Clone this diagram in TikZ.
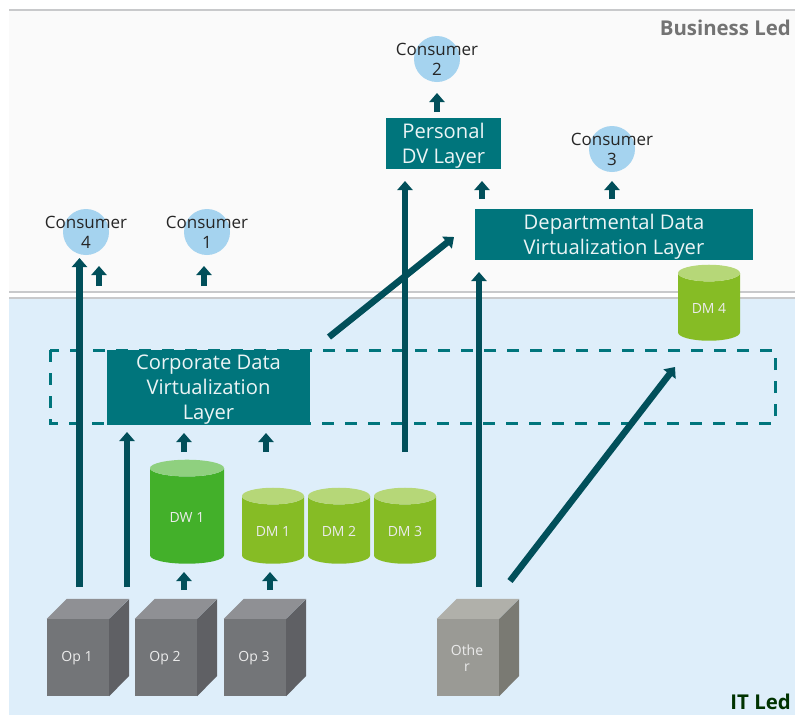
\documentclass[tikz,border=0pt]{standalone}
\usepackage{fontspec}
\setmainfont{Open Sans}
\usetikzlibrary{arrows.meta,shapes.geometric}
\definecolor{layerteal}{HTML}{00757C}
\definecolor{flowteal}{HTML}{014F5A}
\definecolor{itblue}{HTML}{DEEEFA}
\definecolor{bizgrey}{HTML}{FAFAFA}
\definecolor{ruleline}{HTML}{C8C9CB}
\definecolor{consblue}{HTML}{A5D3EF}
\definecolor{dwbody}{HTML}{43B02A}
\definecolor{dwtop}{HTML}{8FD07F}
\definecolor{dmbody}{HTML}{86BC25}
\definecolor{dmtop}{HTML}{B6D778}
\definecolor{opgreyF}{HTML}{737578}
\definecolor{opgreyT}{HTML}{8F9094}
\definecolor{opgreyS}{HTML}{5F6064}
\definecolor{othergreyF}{HTML}{9A9A95}
\definecolor{othergreyT}{HTML}{B0B0AA}
\definecolor{othergreyS}{HTML}{7A7A73}
\tikzset{
	layerbox/.style={rectangle,fill=layerteal,inner sep=0pt},
	layertext/.style={inner sep=0pt,align=center,text=white!92!layerteal,font=\fontsize{20.2}{25}\selectfont},
	consumer/.style={circle,fill=consblue,inner sep=0pt,minimum size=46pt},
	constext/.style={inner sep=0pt,align=center,text=black!85,font=\fontsize{17}{20}\selectfont},
	store/.style={cylinder,shape border rotate=90,cylinder uses custom fill,inner sep=0pt,outer sep=0pt,
		font=\fontsize{13}{16}\selectfont},
	dwstore/.style={store,cylinder body fill=dwbody,cylinder end fill=dwtop,
		minimum width=74pt,minimum height=104pt,aspect=0.52},
	dmstore/.style={store,cylinder body fill=dmbody,cylinder end fill=dmtop,
		minimum width=62pt,minimum height=76pt,aspect=0.52},
	smalltext/.style={inner sep=0pt,text=white!92!black,align=center,font=\fontsize{14}{16}\selectfont},
	flow/.style={draw=flowteal,line width=6.5pt,-{Triangle[width=15pt,length=9pt]}},
	cubeface/.style={rectangle,inner sep=0pt,minimum width=62pt,minimum height=77pt},
	ledtext/.style={inner sep=0pt,anchor=east,font=\bfseries\fontsize{20.4}{24}\selectfont},
}
\begin{document}
\begin{tikzpicture}[x=1pt,y=-1pt]
	\useasboundingbox (0,0) rectangle (795,716);
	\fill[white] (0,0) rectangle (795,716);
	\fill[bizgrey] (9,10) rectangle (795,292);
	\fill[itblue] (9,298) rectangle (795,715);
	\draw[ruleline,line width=1.5pt] (9,10) -- (795,10);
	\draw[ruleline,line width=1.5pt] (9,292) -- (795,292);
	\draw[ruleline,line width=1.5pt] (9,298) -- (795,298);
	\node[ledtext,text=black!55] (bizled) at (791,28) {Business Led};
	\node[ledtext,text=black!80!green] (itled) at (791,702) {IT Led};

	\draw[layerteal,line width=3pt,dash pattern=on 12pt off 11pt] (50,350) rectangle (775,423);

	\foreach \name/\x/\y in {cons4/86/232,cons1/207/232,cons2/437/59,cons3/612/149} {
		\node[consumer] (\name) at (\x,\y) {};
	}
	\foreach \name/\i in {cons4/4,cons1/1,cons2/2,cons3/3} {
		\node[constext] (\name text) at (\name.center) {Consumer\\\i};
	}

	\node[layerbox,minimum width=203pt,minimum height=75pt] (corplayer) at (208.5,387.5) {};
	\node[layerbox,minimum width=278pt,minimum height=51pt] (deptlayer) at (614,234.5) {};
	\node[layerbox,minimum width=115pt,minimum height=51pt] (perslayer) at (443.5,143.5) {};
	\node[layertext] (corptext) at ([yshift=-2pt]corplayer.center) {Corporate Data\\Virtualization\\Layer};
	\node[layertext] (depttext) at ([yshift=-2pt]deptlayer.center) {Departmental Data\\Virtualization Layer};
	\node[layertext] (perstext) at ([yshift=-2pt]perslayer.center) {Personal\\DV Layer};

	\node[dwstore] (dw1) at (187,516) {\phantom{DW 1}};
	\node[smalltext] (dw1text) at (187,517) {DW 1};
	\foreach \name/\x/\y/\txt in {dm1/273/530/DM 1,dm2/339/530/DM 2,dm3/405/530/DM 3,dm4/709/307/DM 4} {
		\node[dmstore] (\name) at (\x,\y) {\phantom{\txt}};
		\node[smalltext] (\name text) at (\x,\y+1) {\txt};
	}

	\foreach \name/\xa/\txt/\tone in {op1/47/Op 1/opgrey,op2/135/Op 2/opgrey,op3/224/Op 3/opgrey,other/437/Othe\\r/othergrey} {
		\node[cubeface,fill=\tone F] (\name) at (\xa+31,657.5) {};
		\node[smalltext] (\name text) at (\xa+30,658) {\txt};
		\fill[\tone T] (\name.north west) -- ++(20,-20) -- ++(62,0) -- (\name.north east) -- cycle;
		\fill[\tone S] (\name.north east) -- ++(20,-20) -- ++(0,77) -- (\name.south east) -- cycle;
	}

	\foreach \name/\x/\y in {op1out/79.5/587,cons4main/79.5/258,cons4feed/99/286,cons4in/99/266,cons1feed/204/286,cons1in/204/266,
		op2out/127/587,corpin/127/432,dw1out/184/452,corpdw/184/433,dm1out/266/452,corpdm/266/433,
		op2dw/184/590,dw1in/184/572,op3dm/270/590,dm1in/270/572,
		dm3out/405/452,persin/405/181,otherout/479/587,deptin/479/272,
		deptpers/482/199,persdept/482/181,deptcons/612/199,cons3in/612/181,
		perscons/437/112,cons2in/437/93,
		corpout/329/337,deptside/454/237,otherdiag/510/581,dm4side/675/367} {
		\coordinate (\name) at (\x,\y);
	}
	\foreach \a/\b in {op1out/cons4main,cons4feed/cons4in,cons1feed/cons1in,op2out/corpin,dw1out/corpdw,dm1out/corpdm,
		op2dw/dw1in,op3dm/dm1in,dm3out/persin,otherout/deptin,deptpers/persdept,deptcons/cons3in,
		perscons/cons2in,corpout/deptside,otherdiag/dm4side} {
		\draw[flow] (\a) -- (\b);
	}
\end{tikzpicture}
\end{document}
